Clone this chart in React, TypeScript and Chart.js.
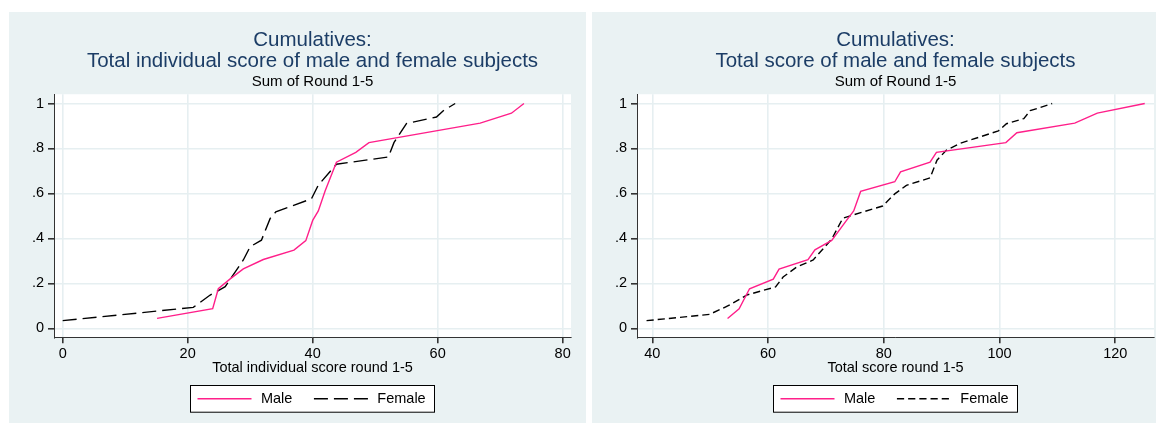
import React, { useEffect, useRef } from 'react';
import { Chart, registerables } from 'chart.js';

Chart.register(...registerables);

const FONT = '"Liberation Sans", Arial, Helvetica, sans-serif';
Chart.defaults.font.family = FONT;

// ---------- data: left panel (individual score) ----------
const indivMaleScore = [15.1, 24.0, 24.9, 26.8, 28.9, 32.1, 37.0, 38.9, 40.0, 40.9, 42.0, 43.8, 46.9, 49.0, 66.8, 71.8, 73.8];
const indivMaleCum = [0.044, 0.087, 0.176, 0.220, 0.264, 0.306, 0.348, 0.390, 0.480, 0.522, 0.612, 0.739, 0.783, 0.826, 0.913, 0.957, 1.0];
const indivFemaleScore = [0.0, 20.9, 23.6, 26.0, 28.9, 30.0, 31.8, 33.2, 34.1, 39.8, 40.9, 43.8, 52.1, 53.0, 55.0, 59.8, 61.0, 62.8];
const indivFemaleCum = [0.034, 0.093, 0.148, 0.185, 0.304, 0.363, 0.392, 0.489, 0.518, 0.576, 0.637, 0.730, 0.762, 0.826, 0.911, 0.940, 0.970, 1.0];

// ---------- data: right panel (total score) ----------
const totalMaleScore = [53.0, 55.0, 56.8, 60.9, 61.9, 66.9, 68.1, 71.0, 73.5, 74.8, 76.0, 81.9, 82.9, 88.0, 89.1, 101.1, 103.0, 113.0, 116.9, 125.1];
const totalMaleCum = [0.044, 0.087, 0.176, 0.219, 0.263, 0.305, 0.349, 0.391, 0.478, 0.522, 0.609, 0.652, 0.696, 0.739, 0.783, 0.826, 0.870, 0.913, 0.957, 1.0];
const totalFemaleScore = [39.0, 49.9, 53.4, 56.3, 61.3, 62.6, 64.9, 67.8, 71.0, 72.9, 73.8, 79.8, 81.9, 83.9, 88.0, 89.2, 90.8, 93.1, 99.8, 101.2, 104.2, 105.3, 109.1];
const totalFemaleCum = [0.034, 0.062, 0.104, 0.148, 0.184, 0.228, 0.272, 0.304, 0.397, 0.489, 0.497, 0.544, 0.598, 0.636, 0.669, 0.748, 0.792, 0.822, 0.878, 0.910, 0.933, 0.968, 1.0];

// ---------- ticks & labels ----------
const yTickValues = [0, 0.2, 0.4, 0.6, 0.8, 1];
const yTickLabels = ['0', '.2', '.4', '.6', '.8', '1'];
const leftXTicks = [0, 20, 40, 60, 80];
const rightXTicks = [40, 60, 80, 100, 120];
const seriesNames = ['Male', 'Female'];

const titleLine1 = 'Cumulatives:';
const leftTitle2 = 'Total individual score of male and female subjects';
const rightTitle2 = 'Total score of male and female subjects';
const subTitle = 'Sum of Round 1-5';
const leftXTitle = 'Total individual score round 1-5';
const rightXTitle = 'Total score round 1-5';

// ---------- styles ----------
const BG = '#EAF2F3';
const GRID = '#E6EFF1';
const AXIS = '#333333';
const PINK = '#ff1f8a';
const TITLE_COLOR = '#1c3d66';
const TXT = 14.5;

const zip = (xs: number[], ys: number[]) => xs.map((x, i) => ({ x, y: ys[i] }));

const bgPlugin = {
  id: 'bgPlugin',
  beforeDraw(chart: any) {
    const { ctx, chartArea, width, height } = chart;
    ctx.save();
    ctx.fillStyle = BG;
    ctx.fillRect(0, 0, width, height);
    ctx.fillStyle = '#ffffff';
    ctx.fillRect(chartArea.left, chartArea.top, chartArea.right - chartArea.left, chartArea.bottom - chartArea.top);
    ctx.restore();
  },
};

const boxLegend = {
  id: 'boxLegend',
  afterDraw(chart: any, _args: any, opts: any) {
    const { ctx, chartArea } = chart;
    ctx.save();
    ctx.font = `${TXT}px ${FONT}`;
    const items = chart.data.datasets.map((d: any) => ({ label: d.label, color: d.borderColor, dash: d.borderDash || [] }));
    const pad = 7, sample = 54, gapT = 9.4, gapItem = 21.6, padR = 9.3;
    const widths = items.map((it: any) => ctx.measureText(it.label).width);
    let total = pad + padR;
    items.forEach((_: any, k: number) => {
      total += sample + gapT + widths[k];
      if (k < items.length - 1) total += gapItem;
    });
    const cx = (chartArea.left + chartArea.right) / 2;
    const left = Math.round(cx - total / 2) + 0.5;
    const top = Math.round(opts.top) + 0.5;
    const h = opts.height;
    ctx.fillStyle = '#ffffff';
    ctx.fillRect(left, top, total, h);
    ctx.strokeStyle = '#000000';
    ctx.lineWidth = 1;
    ctx.strokeRect(left, top, Math.round(total), h);
    let x = left + pad;
    const cy = top + h / 2;
    items.forEach((it: any, k: number) => {
      ctx.beginPath();
      ctx.setLineDash(it.dash);
      ctx.strokeStyle = it.color;
      ctx.lineWidth = 1.5;
      ctx.moveTo(x, cy);
      ctx.lineTo(x + sample, cy);
      ctx.stroke();
      ctx.setLineDash([]);
      x += sample + gapT;
      ctx.fillStyle = '#000000';
      ctx.textBaseline = 'middle';
      ctx.textAlign = 'left';
      ctx.fillText(it.label, x, cy + 0.5);
      x += widths[k] + gapItem;
    });
    ctx.restore();
  },
};

function makeConfig(p: {
  male: { x: number; y: number }[];
  female: { x: number; y: number }[];
  femaleDash: number[];
  xMin: number;
  xMax: number;
  xTicks: number[];
  title2: string;
  xTitle: string;
}): any {
  return {
    type: 'scatter',
    data: {
      datasets: [
        { label: seriesNames[0], data: p.male, showLine: true, borderColor: PINK, borderWidth: 1.4, pointRadius: 0, borderDash: [] },
        { label: seriesNames[1], data: p.female, showLine: true, borderColor: '#000000', borderWidth: 1.4, pointRadius: 0, borderDash: p.femaleDash },
      ],
    },
    plugins: [bgPlugin, boxLegend],
    options: {
      responsive: false,
      animation: false,
      devicePixelRatio: 1,
      layout: { padding: { left: 0, right: 15, top: 0, bottom: 46.3 } },
      plugins: {
        legend: { display: false },
        tooltip: { enabled: false },
        title: {
          display: true,
          text: [titleLine1, p.title2],
          color: TITLE_COLOR,
          fullSize: false,
          font: { size: 20.5, weight: 'normal', lineHeight: 1.03 },
          padding: { top: 17.5, bottom: 0 },
        },
        subtitle: {
          display: true,
          text: subTitle,
          color: '#000000',
          fullSize: false,
          font: { size: 15, weight: 'normal', lineHeight: 1.2 },
          padding: { top: 1.5, bottom: 3 },
        },
        boxLegend: { top: 373, height: 26.7 },
      },
      scales: {
        x: {
          type: 'linear',
          min: p.xMin,
          max: p.xMax,
          afterBuildTicks: (s: any) => {
            s.ticks = p.xTicks.map((v) => ({ value: v }));
          },
          afterFit: (s: any) => {
            s.height = 39.4;
          },
          ticks: {
            callback: (_v: any, i: number) => String(p.xTicks[i]),
            color: '#000000',
            font: { size: TXT },
            padding: 2,
            maxRotation: 0,
            autoSkip: false,
          },
          grid: { color: GRID, lineWidth: 1.6, tickLength: 6, tickColor: AXIS },
          border: { display: true, color: AXIS, width: 1 },
          title: {
            display: true,
            text: p.xTitle,
            color: '#000000',
            font: { size: TXT },
            padding: { top: 0, bottom: 0 },
          },
        },
        y: {
          type: 'linear',
          min: -0.04,
          max: 1.0413,
          afterBuildTicks: (s: any) => {
            s.ticks = yTickValues.map((v) => ({ value: v }));
          },
          afterFit: (s: any) => {
            s.width = 45;
          },
          ticks: {
            callback: (_v: any, i: number) => yTickLabels[i],
            color: '#000000',
            font: { size: TXT },
            padding: 4,
            autoSkip: false,
          },
          grid: { color: GRID, lineWidth: 1.6, tickLength: 6, tickColor: AXIS },
          border: { display: true, color: AXIS, width: 1 },
        },
      },
    },
  };
}

export default function App() {
  const leftRef = useRef<HTMLCanvasElement | null>(null);
  const rightRef = useRef<HTMLCanvasElement | null>(null);

  useEffect(() => {
    const charts: Chart[] = [];
    if (leftRef.current) {
      charts.push(
        new Chart(
          leftRef.current,
          makeConfig({
            male: zip(indivMaleScore, indivMaleCum),
            female: zip(indivFemaleScore, indivFemaleCum),
            femaleDash: [14, 6],
            xMin: -1.39,
            xMax: 81.33,
            xTicks: leftXTicks,
            title2: leftTitle2,
            xTitle: leftXTitle,
          })
        )
      );
    }
    if (rightRef.current) {
      charts.push(
        new Chart(
          rightRef.current,
          makeConfig({
            male: zip(totalMaleScore, totalMaleCum),
            female: zip(totalFemaleScore, totalFemaleCum),
            femaleDash: [7.2, 4],
            xMin: 37.35,
            xMax: 126.7,
            xTicks: rightXTicks,
            title2: rightTitle2,
            xTitle: rightXTitle,
          })
        )
      );
    }
    return () => {
      charts.forEach((c) => c.destroy());
    };
  }, []);

  return (
    <div style={{ position: 'fixed', left: 0, top: 0, width: 1156, height: 423, overflow: 'hidden', background: '#ffffff' }}>
      <canvas ref={leftRef} width={577} height={411} style={{ position: 'absolute', left: 9, top: 12, width: 577, height: 411 }} />
      <canvas ref={rightRef} width={577} height={411} style={{ position: 'absolute', left: 592, top: 12, width: 577, height: 411 }} />
    </div>
  );
}
